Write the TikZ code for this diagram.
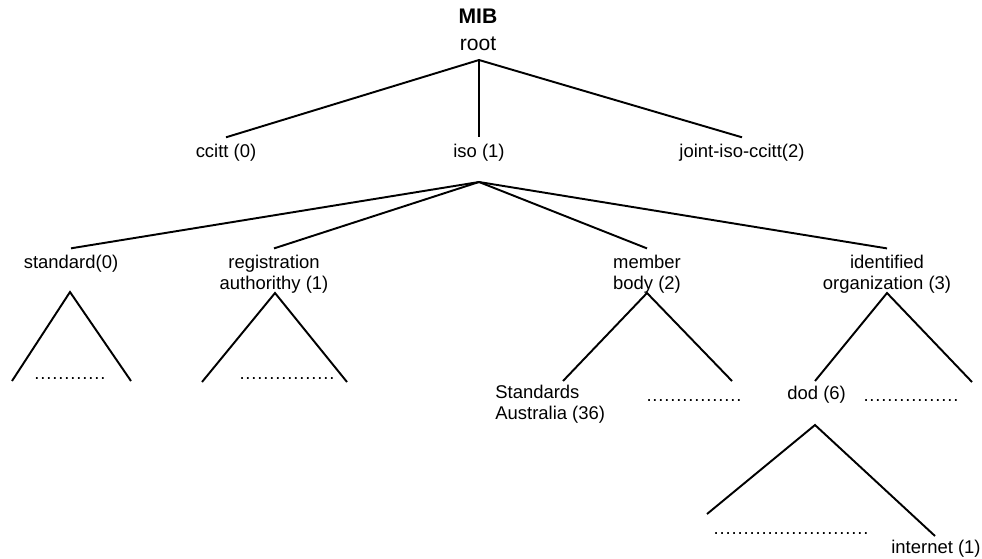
\documentclass[tikz,border=0pt]{standalone}
\usepackage{fontspec}
\setmainfont{Liberation Sans}
\usetikzlibrary{positioning}
\newcommand{\Dotrow}[1]{\foreach \k in {1,...,#1}{\hbox to 3.41pt{\hss.\hss}}}
\tikzset{
    lbl/.style={font=\fontsize{10.5}{11.9}\selectfont, align=center, inner xsep=0pt, inner ysep=3.4pt, anchor=base},
    toplbl/.style={lbl, font=\fontsize{12}{15.3}\selectfont},
    dots/.style={lbl, inner ysep=0pt},
    branch/.style={line width=1.1pt},
}

\begin{document}
\begin{tikzpicture}[x=0.02cm, y=-0.02cm]
    \useasboundingbox (0,0) rectangle (982,558);

    % root and first level
    \node[toplbl] (mib) at (478,50) {\textbf{MIB}\\root};
    \coordinate (rootpt) at (479,60);
    \node[lbl] (ccitt) at (226,157) {ccitt (0)};
    \node[lbl] (iso) at (479,157) {iso (1)};
    \node[lbl] (joint) at (742,157) {joint-iso-ccitt(2)};
    \draw[branch] (rootpt) -- (ccitt.north);
    \draw[branch] (rootpt) -- (iso.north);
    \draw[branch] (rootpt) -- (joint.north);

    % children of iso
    \coordinate (isopt) at (479,182);
    \node[lbl] (std) at (71,268) {standard(0)};
    \node[lbl] (reg) at (274,289) {registration\\authorithy (1)};
    \node[lbl] (member) at (647,289) {member\\body (2)};
    \node[lbl] (ident) at (887,289) {identified\\organization (3)};
    \draw[branch] (isopt) -- (std.north);
    \draw[branch] (isopt) -- (reg.north);
    \draw[branch] (isopt) -- (member.north);
    \draw[branch] (isopt) -- (ident.north);

    % subtrees
    \draw[branch] (12,381) -- (70,292) -- (131,381);
    \node[dots] (stddots) at (70,379) {\Dotrow{12}};

    \draw[branch] (202,382) -- (275,293) -- (347,382);
    \node[dots] (regdots) at (287,379) {\Dotrow{16}};

    \draw[branch] (563,381) -- (647,293) -- (732,381);
    \node[lbl, anchor=base west, align=left] (stdaus) at (495,419) {Standards\\Australia (36)};
    \node[dots] (memdots) at (694,401) {\Dotrow{16}};

    \draw[branch] (815,381) -- (887,293) -- (972,382);
    \node[lbl, anchor=base west] (dod) at (787,399) {dod (6)};
    \node[dots] (identdots) at (911,401) {\Dotrow{16}};

    \draw[branch] (707,514) -- (815,425) -- (935,536);
    \node[dots] (doddots) at (791,534) {\Dotrow{26}};
    \node[lbl, anchor=base west] (internet) at (891,553) {internet (1)};
\end{tikzpicture}
\end{document}
